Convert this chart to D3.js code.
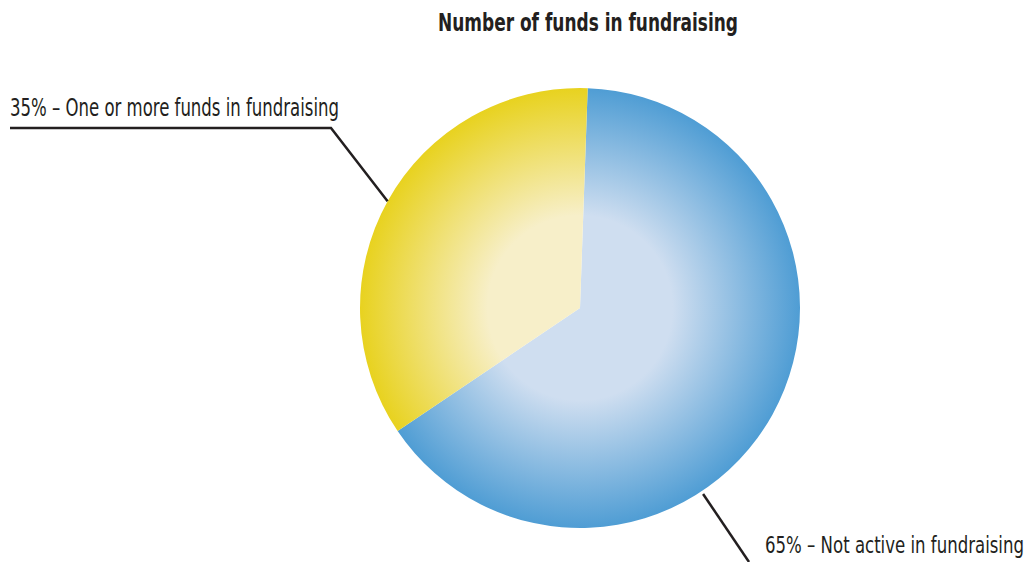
<!DOCTYPE html>
<html>
<head>
<meta charset="utf-8">
<script src="https://cdn.jsdelivr.net/npm/d3@7/dist/d3.min.js"></script>
<style>
  html, body { margin: 0; padding: 0; background: #fff; }
  svg { display: block; }
  text { font-family: "DejaVu Sans Condensed", "DejaVu Sans", sans-serif; fill: #231f20; }
</style>
</head>
<body>
<svg id="chart" width="1029" height="562"></svg>
<script>
// Fundraising status of funds (share of respondents, %)
const categories = ["Not active in fundraising", "One or more funds in fundraising"];
const values = [65, 35];
const labels = ["65% – Not active in fundraising", "35% – One or more funds in fundraising"];
const title = "Number of funds in fundraising";

const W = 1029, H = 562;
const cx = 580, cy = 308, R = 220;
const palette = [
  { inner: "#cfdef0", outer: "#4f9dd4" },
  { inner: "#f7efc9", outer: "#e8d21f" }
];

const svg = d3.select("#chart");
const defs = svg.append("defs");

// Radial shading, centred on the pie centre (local coordinates of the pie group)
palette.forEach((p, i) => {
  const grad = defs.append("radialGradient")
    .attr("id", "grad" + i)
    .attr("gradientUnits", "userSpaceOnUse")
    .attr("cx", 0).attr("cy", 0).attr("r", R);
  grad.append("stop").attr("offset", "0%").attr("stop-color", p.inner);
  grad.append("stop").attr("offset", "42%").attr("stop-color", p.inner);
  grad.append("stop").attr("offset", "100%").attr("stop-color", p.outer);
});

const rot = 2 * Math.PI / 180;
const pie = d3.pie().sort(null)
  .startAngle(rot).endAngle(2 * Math.PI + rot);
const arcs = pie(values);
const arc = d3.arc().innerRadius(0).outerRadius(R);

const g = svg.append("g").attr("transform", `translate(${cx},${cy})`);
g.selectAll("path.slice")
  .data(arcs)
  .join("path")
  .attr("class", "slice")
  .attr("d", arc)
  .attr("fill", (d, i) => `url(#grad${i})`);

// Title
svg.append("text")
  .attr("x", 588).attr("y", 31)
  .attr("text-anchor", "middle")
  .attr("font-size", 24)
  .attr("font-weight", "bold")
  .attr("textLength", 300)
  .attr("lengthAdjust", "spacingAndGlyphs")
  .text(title);

// Leader lines and labels
const polar = (ang, r) => [cx + r * Math.sin(ang), cy - r * Math.cos(ang)];

// Yellow slice: elbow leader to the upper-left label
const yMid = (arcs[1].startAngle + arcs[1].endAngle) / 2;
const yEnd = polar(yMid, R);
const leader1 = d3.line()([[10, 128], [331, 128], yEnd]);
svg.append("path").attr("d", leader1)
  .attr("fill", "none").attr("stroke", "#231f20").attr("stroke-width", 2.5);
svg.append("text")
  .attr("x", 10).attr("y", 116)
  .attr("font-size", 24)
  .attr("textLength", 329)
  .attr("lengthAdjust", "spacingAndGlyphs")
  .text(labels[1]);

// Blue slice: straight leader to the lower-right label
const bStart = polar(146.5 * Math.PI / 180, R + 3);
const leader2 = d3.line()([bStart, [749, 562]]);
svg.append("path").attr("d", leader2)
  .attr("fill", "none").attr("stroke", "#231f20").attr("stroke-width", 2.5);
svg.append("text")
  .attr("x", 1024).attr("y", 553)
  .attr("text-anchor", "end")
  .attr("font-size", 23)
  .attr("textLength", 259)
  .attr("lengthAdjust", "spacingAndGlyphs")
  .text(labels[0]);
</script>
</body>
</html>
